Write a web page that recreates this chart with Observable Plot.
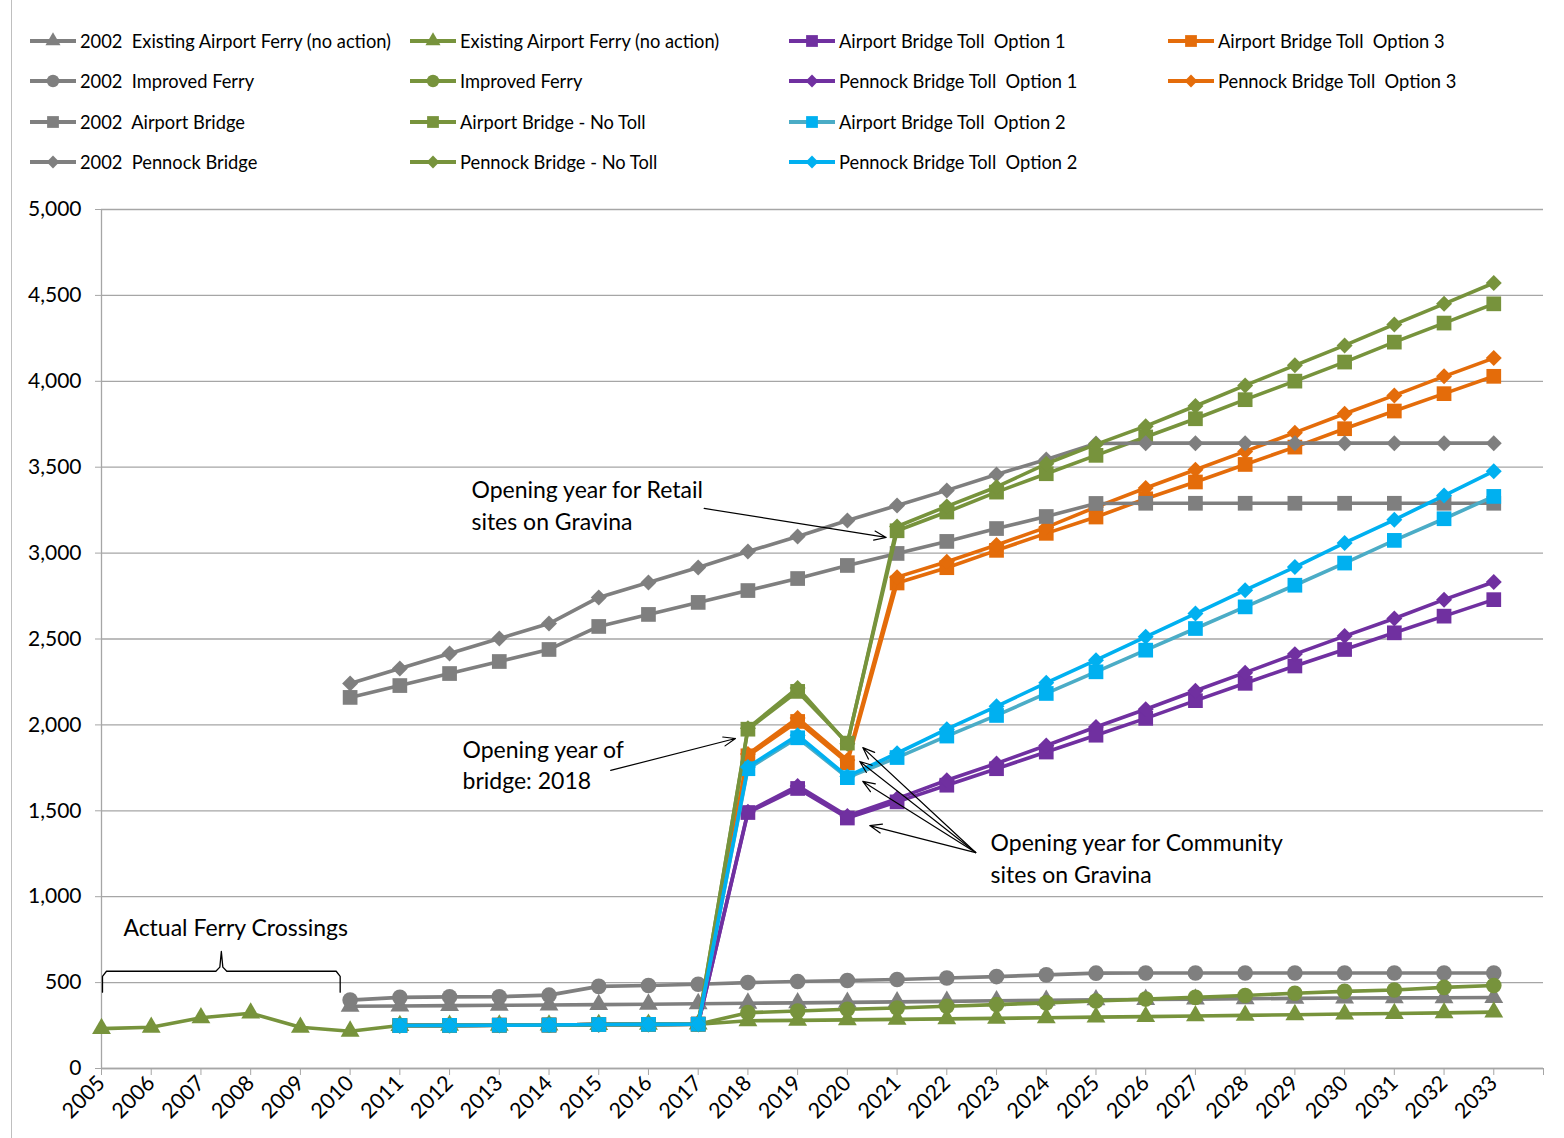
<!DOCTYPE html>
<html><head><meta charset="utf-8">
<script src="https://cdn.jsdelivr.net/npm/d3@7"></script>
<script src="https://cdn.jsdelivr.net/npm/@observablehq/plot@0.6"></script>
<style>
body{margin:0;background:#fff;font-family:Lato,sans-serif;}
#wrap{position:relative;width:1564px;height:1138px;overflow:hidden;background:#fff;}
#legend{position:absolute;left:0;top:0;width:1564px;height:190px;}
.item{position:absolute;display:flex;align-items:center;font-size:18.3px;color:#000;white-space:nowrap;transform:translateY(-50%);}
.item svg{margin-right:4px;}
#chart{position:absolute;left:0;top:190px;}
#border{position:absolute;left:11px;top:0;width:1px;height:1138px;background:#bfbfbf;}
</style></head><body>
<div id="wrap"><div id="border"></div><div id="legend"></div><div id="chart"></div></div>
<script>
const years = d3.range(2005, 2034); // 2005..2033

// ---- series values (null = no value) ----
const existingFerry2002 = [null,null,null,null,null,362,364,366,368,370,372,374,377,380,382,385,388,391,394,397,400,402,404,406,408,410,411,412,413];
const improvedFerry2002 = [null,null,null,null,null,398,414,417,418,427,478,483,490,500,506,512,518,527,535,545,555,556,556,556,556,556,556,556,556];
const airportBridge2002 = [null,null,null,null,null,2160,2229,2299,2369,2439,2573,2643,2713,2782,2852,2928,2998,3068,3143,3213,3289,3290,3290,3290,3290,3290,3290,3290,3290];
const pennockBridge2002 = [null,null,null,null,null,2241,2328,2416,2503,2590,2742,2829,2916,3009,3097,3190,3277,3365,3458,3545,3638,3640,3640,3640,3640,3640,3640,3640,3640];
const existingFerry     = [232,240,295,322,240,217,250,251,252,253,256,257,258,278,280,283,286,289,292,295,299,302,306,309,313,317,320,324,328];
const improvedFerry     = [null,null,null,null,null,null,250,251,252,253,256,257,258,325,335,345,352,362,372,382,393,404,414,425,438,449,457,472,483];
const airportNoToll     = [null,null,null,null,null,null,250,251,252,253,256,257,258,1975,2195,1894,3130,3239,3355,3462,3569,3676,3782,3893,4001,4112,4228,4339,4451];
const pennockNoToll     = [null,null,null,null,null,null,250,251,252,253,256,257,258,1980,2215,1890,3155,3272,3385,3520,3633,3739,3856,3976,4093,4209,4331,4451,4572];
const airportToll1      = [null,null,null,null,null,null,250,251,252,253,256,257,258,1490,1630,1458,1552,1649,1745,1842,1940,2038,2141,2242,2343,2439,2536,2633,2729];
const pennockToll1      = [null,null,null,null,null,null,250,251,252,253,256,257,258,1495,1645,1470,1571,1678,1776,1880,1988,2091,2199,2304,2412,2517,2619,2729,2832];
const airportToll2      = [null,null,null,null,null,null,250,251,252,253,256,257,258,1745,1925,1693,1810,1935,2055,2183,2309,2435,2561,2687,2813,2942,3074,3200,3330];
const pennockToll2      = [null,null,null,null,null,null,250,251,252,253,256,257,258,1755,1940,1700,1835,1975,2108,2245,2377,2513,2648,2784,2919,3059,3194,3335,3477];
const airportToll3      = [null,null,null,null,null,null,250,251,252,253,256,257,258,1820,2020,1780,2826,2915,3016,3115,3210,3316,3414,3516,3617,3724,3827,3928,4029];
const pennockToll3      = [null,null,null,null,null,null,250,251,252,253,256,257,258,1830,2040,1795,2860,2950,3047,3150,3268,3379,3485,3592,3701,3811,3918,4029,4135];

// ---- legend labels ----
const legendLabels = [
  "2002  Existing Airport Ferry (no action)", "Existing Airport Ferry (no action)", "Airport Bridge Toll  Option 1", "Airport Bridge Toll  Option 3",
  "2002  Improved Ferry", "Improved Ferry", "Pennock Bridge Toll  Option 1", "Pennock Bridge Toll  Option 3",
  "2002  Airport Bridge", "Airport Bridge - No Toll", "Airport Bridge Toll  Option 2", null,
  "2002  Pennock Bridge", "Pennock Bridge - No Toll", "Pennock Bridge Toll  Option 2", null
];

// ---- axis ticks ----
const yTicks = d3.range(0, 5001, 500);
const xTicks = d3.range(2005, 2035);

// ---- annotations (data units) ----
const annotationLines = [
  {x: 2012.44, y: 3364, text: "Opening year for Retail"},
  {x: 2012.44, y: 3178, text: "sites on Gravina"},
  {x: 2012.26, y: 1851, text: "Opening year of"},
  {x: 2012.26, y: 1671, text: "bridge: 2018"},
  {x: 2022.88, y: 1310, text: "Opening year for Community"},
  {x: 2022.88, y: 1123, text: "sites on Gravina"},
  {x: 2005.44, y: 815,  text: "Actual Ferry Crossings"}
];
const arrowsData = [
  {x1: 2017.12, y1: 3260, x2: 2020.78, y2: 3091},
  {x1: 2015.24, y1: 1735, x2: 2017.75, y2: 1921},
  {x1: 2022.58, y1: 1257, x2: 2020.31, y2: 1868},
  {x1: 2022.58, y1: 1257, x2: 2020.25, y2: 1787},
  {x1: 2022.58, y1: 1257, x2: 2020.31, y2: 1671},
  {x1: 2022.58, y1: 1257, x2: 2020.45, y2: 1414}
];
const braceX = [2005.02, 2005.02, 2005.1, 2007.3, 2007.38, 2007.41, 2007.44, 2007.52, 2009.72, 2009.8, 2009.8];
const braceY = [444, 536, 566, 566, 590, 681, 590, 566, 566, 536, 444];

// ---- styling ----
const GRAY = "#7f7f7f", GREEN = "#77933c", PURPLE = "#7030a0", ORANGE = "#e46c0a", CYAN = "#00b0f0", TEAL = "#4bacc6";
const SYM = {triangle: {s: "triangle", r: 7.0}, circle: {s: "circle", r: 7.8}, square: {s: "square", r: 8.3}, diamond: {s: "diamond2", r: 7.2}};

// series in drawing order (Excel series order)
const series = [
  {label: legendLabels[0],  values: existingFerry2002, line: GRAY,   fill: GRAY,   sym: "triangle"},
  {label: legendLabels[1],  values: existingFerry,     line: GREEN,  fill: GREEN,  sym: "triangle"},
  {label: legendLabels[2],  values: airportToll1,      line: PURPLE, fill: PURPLE, sym: "square"},
  {label: legendLabels[3],  values: airportToll3,      line: ORANGE, fill: ORANGE, sym: "square"},
  {label: legendLabels[4],  values: improvedFerry2002, line: GRAY,   fill: GRAY,   sym: "circle"},
  {label: legendLabels[5],  values: improvedFerry,     line: GREEN,  fill: GREEN,  sym: "circle"},
  {label: legendLabels[6],  values: pennockToll1,      line: PURPLE, fill: PURPLE, sym: "diamond"},
  {label: legendLabels[7],  values: pennockToll3,      line: ORANGE, fill: ORANGE, sym: "diamond"},
  {label: legendLabels[8],  values: airportBridge2002, line: GRAY,   fill: GRAY,   sym: "square"},
  {label: legendLabels[9],  values: airportNoToll,     line: GREEN,  fill: GREEN,  sym: "square"},
  {label: legendLabels[10], values: airportToll2,      line: TEAL,   fill: CYAN,   sym: "square"},
  {label: legendLabels[12], values: pennockBridge2002, line: GRAY,   fill: GRAY,   sym: "diamond"},
  {label: legendLabels[13], values: pennockNoToll,     line: GREEN,  fill: GREEN,  sym: "diamond"},
  {label: legendLabels[14], values: pennockToll2,      line: CYAN,   fill: CYAN,   sym: "diamond"}
];

// ---- legend ----
const legendCols = [30, 410, 789, 1168];
const legendRows = [41, 81, 122, 162];
const legend = document.getElementById("legend");
const d3sym = {triangle: d3.symbolTriangle, circle: d3.symbolCircle, square: d3.symbolSquare, diamond: d3.symbolDiamond2};
legendLabels.forEach((lab, i) => {
  if (!lab) return;
  const s = series.find(d => d.label === lab);
  const col = i % 4, row = Math.floor(i / 4);
  const div = document.createElement("div");
  div.className = "item";
  div.style.left = legendCols[col] + "px";
  div.style.top = legendRows[row] + "px";
  const r = SYM[s.sym].r * 0.8;
  const path = d3.symbol(d3sym[s.sym], Math.PI * r * r)();
  div.innerHTML = `<svg width="46" height="18"><line x1="0" x2="46" y1="9" y2="9" stroke="${s.line}" stroke-width="4"/><path transform="translate(23,9)" d="${path}" fill="${s.fill}"/></svg><span>${lab.replace(/  /g, "&nbsp; ")}</span>`;
  legend.appendChild(div);
});

// ---- chart ----
const marks = [
  Plot.gridY(yTicks, {stroke: "#a6a6a6", strokeOpacity: 1, strokeWidth: 1.3}),
  Plot.ruleX([2005], {stroke: "#a6a6a6", strokeWidth: 1.3}),
  Plot.ruleY([0], {stroke: "#a6a6a6", strokeWidth: 1.3}),
  Plot.axisY(yTicks, {tickSize: 6, tickPadding: 14, tickFormat: d3.format(","), fontSize: 21, stroke: "#a6a6a6", fill: "#000"}),
  Plot.axisX(xTicks, {tickSize: 7, tickPadding: 4, tickRotate: -45, tickFormat: d => d <= 2033 ? String(d) : "", fontSize: 21.5, stroke: "#a6a6a6", fill: "#000"})
];
for (const s of series) {
  const data = years.map((yr, i) => ({year: yr, value: s.values[i]})).filter(d => d.value != null);
  marks.push(Plot.line(data, {x: "year", y: "value", stroke: s.line, strokeWidth: 3.6}));
  marks.push(Plot.dot(data, {x: "year", y: "value", symbol: SYM[s.sym].s, r: SYM[s.sym].r, fill: s.fill, stroke: "none"}));
}
marks.push(
  Plot.text(annotationLines, {x: "x", y: "y", text: "text", textAnchor: "start", fontSize: 23, fill: "#000"}),
  Plot.arrow(arrowsData, {x1: "x1", y1: "y1", x2: "x2", y2: "y2", stroke: "#000", strokeWidth: 1.2, headLength: 16, headAngle: 42}),
  Plot.line(braceX.map((x, i) => ({x, y: braceY[i]})), {x: "x", y: "y", stroke: "#000", strokeWidth: 1.3})
);

const chart = Plot.plot({
  width: 1564, height: 948,
  marginTop: 19, marginBottom: 70, marginLeft: 101, marginRight: 21,
  style: {fontFamily: "Lato, sans-serif", fontSize: "21px", background: "transparent", color: "#000"},
  x: {type: "linear", domain: [2005, 2034], axis: null},
  y: {domain: [0, 5000], axis: null},
  marks
});
document.getElementById("chart").appendChild(chart);
</script>
</body></html>
